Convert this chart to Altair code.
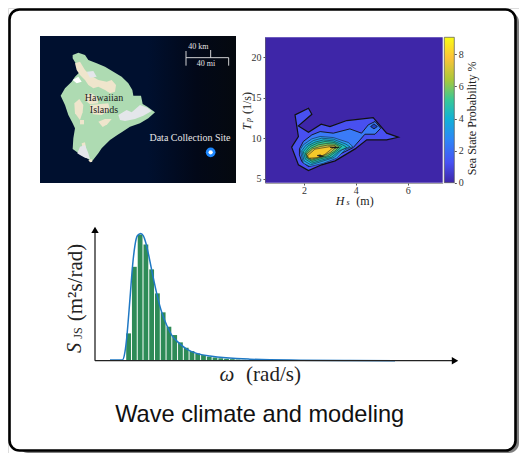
import altair as alt
import pandas as pd

SERIF = "Liberation Serif"
SANS = "Liberation Sans"

# ---------- map (read in picture units of the map panel) ----------
island = [(128,90),(145,83),(165,90),(175,105),(200,115),(225,125),(250,140),(275,155),(295,175),(307,195),(310,212),(333,212),(338,237),(352,245),(375,262),(355,280),(330,295),(300,305),(275,322),(262,330),(240,345),(215,370),(205,385),(185,410),(175,402),(150,388),(128,372),(130,340),(135,310),(128,295),(115,270),(105,240),(92,212),(105,190),(125,170),(135,155),(150,140),(140,120),(128,100)]
tan_regions = [
    [(135,115),(150,110),(165,135),(180,150),(205,165),(230,170),(245,165),(258,180),(255,200),(240,205),(225,195),(205,185),(190,190),(175,180),(165,165),(150,150),(140,135)],
    [(133,235),(148,222),(160,240),(158,262),(150,285),(135,265)],
    [(180,240),(235,235),(240,255),(215,270),(190,268),(180,255)],
    [(165,210),(185,205),(200,215),(205,235),(180,238),(168,228)],
    [(150,285),(162,285),(162,298),(150,298)],
    [(205,290),(225,282),(245,282),(232,298),(218,306)],
    [(155,355),(165,352),(168,368),(158,372)],
    [(175,405),(185,402),(187,410),(180,412)],
]
gray_regions = [
    [(170,140),(190,138),(200,155),(180,158)],
    [(265,270),(290,255),(305,262),(330,240),(352,248),(365,258),(340,272),(315,282),(285,288),(270,285)],
    [(142,385),(150,365),(165,360),(175,385),(180,402),(165,398),(150,390)],
]
white_regions = [[(128,165),(145,155),(155,170),(140,175)]]
scalebar = [(468,98,596,98),(468,78,468,122),(542,75,542,98),(596,98,596,122)]

# ---------- contour panel ----------
contours = [
    ("#4850f0", 1.2, [(1.65,12.88),(2.17,13.70),(2.30,12.96),(1.78,11.52),(2.17,10.74),(2.66,11.73),(3.00,11.44),(3.65,12.18),(4.67,12.55),(5.19,10.62),(5.64,10.12),(5.19,9.79),(4.42,9.79),(3.97,8.68),(3.20,7.20),(2.68,6.71),(2.17,6.01),(1.78,6.71),(1.52,8.89),(1.78,10.21)]),
    ("#3a7bf7", 0.9, [(1.82,8.68),(1.97,9.59),(2.30,10.41),(2.62,10.82),(3.13,10.62),(3.77,11.15),(4.22,10.62),(4.48,11.65),(4.74,12.06),(4.96,11.23),(4.74,10.49),(4.35,10.49),(4.16,9.79),(3.90,8.85),(3.20,7.74),(2.68,7.12),(2.17,6.50),(1.91,7.12),(1.82,7.94)]),
    ("#1f3fc0", 0.8, [(4.57,11.44),(4.70,11.77),(4.83,11.44),(4.70,11.15)]),
    ("#2d9cf0", 0.5, [(1.85,8.56),(1.97,9.18),(2.30,9.92),(2.62,10.21),(3.13,10.08),(3.71,9.47),(3.88,8.97),(3.58,8.56),(3.26,7.53),(2.75,6.91),(2.23,6.50),(1.97,6.91)]),
    ("#1eaedc", 0.5, [(1.91,8.44),(2.06,9.09),(2.36,9.71),(2.68,10.0),(3.13,9.88),(3.62,9.26),(3.77,8.93),(3.45,8.56),(3.16,7.61),(2.68,7.12),(2.26,6.71),(2.0,7.2)]),
    ("#22bfb8", 0.5, [(1.97,8.35),(2.17,9.09),(2.42,9.51),(2.75,9.79),(3.13,9.67),(3.54,9.09),(3.65,8.85),(3.36,8.44),(3.07,7.65),(2.62,7.24),(2.30,6.91),(2.05,7.41)]),
    ("#37c897", 0.5, [(2.04,8.23),(2.23,8.97),(2.51,9.38),(2.81,9.59),(3.16,9.47),(3.45,8.97),(3.32,8.56),(2.98,7.74),(2.59,7.41),(2.31,7.12),(2.10,7.53)]),
    ("#80c860", 0.5, [(2.08,8.15),(2.27,8.77),(2.55,9.18),(2.85,9.34),(3.20,9.26),(3.36,8.93),(3.20,8.44),(2.90,7.82),(2.55,7.53),(2.30,7.28),(2.13,7.61)]),
    ("#d0be45", 0.5, [(2.10,8.02),(2.33,8.68),(2.62,8.97),(2.90,9.14),(3.20,9.09),(3.23,8.85),(3.03,8.27),(2.77,7.86),(2.51,7.61),(2.30,7.41),(2.15,7.65)]),
    ("#f5c82a", 0.5, [(2.14,7.86),(2.42,8.64),(3.03,8.97),(3.13,8.85),(2.81,8.02),(2.55,7.61),(2.17,7.53)]),
    ("#222222", 0.5, [(3.0,8.85),(3.2,8.93),(3.36,8.85),(3.2,8.77)]),
    ("#222222", 0.5, [(2.5,7.86),(2.62,7.94),(2.75,7.74),(2.62,7.70)]),
]
hs_ticks = [2, 4, 6]
tp_ticks = [5, 10, 15, 20]
cb_ticks = [0, 2, 4, 6, 8]
parula = [(0,"#3e26a8"),(0.14,"#4752f4"),(0.3,"#2d87f7"),(0.44,"#12b1d6"),(0.57,"#37c897"),(0.71,"#abc739"),(0.86,"#fec338"),(1,"#f9fb15")]

# ---------- spectrum ----------
bar_left = [0.26,0.308,0.356,0.404,0.452,0.5,0.548,0.596,0.644,0.692,0.74,0.788,0.836,0.884,0.932,0.98,1.028,1.076,1.124,1.172,1.22,1.268,1.316,1.364,1.412,1.46,1.508,1.556,1.604,1.652]
bar_right = [0.3,0.348,0.396,0.444,0.492,0.54,0.588,0.636,0.684,0.732,0.78,0.828,0.876,0.924,0.972,1.02,1.068,1.116,1.164,1.212,1.26,1.308,1.356,1.404,1.452,1.5,1.548,1.596,1.644,1.692]
bar_s = [0.213,0.732,0.984,0.906,0.712,0.525,0.377,0.265,0.2,0.143,0.101,0.075,0.057,0.044,0.031,0.025,0.019,0.015,0.012,0.009,0.007,0.005,0.004,0.003,0.002,0.002,0.001,0.001,0.001,0.001]
curve_omega = [0.125,0.228,0.25,0.264,0.292,0.314,0.333,0.353,0.381,0.403,0.425,0.453,0.481,0.514,0.556,0.597,0.639,0.694,0.764,0.847,0.958,1.29,1.71,2.125,2.5]
curve_s = [0.005,0.005,0.07,0.175,0.49,0.75,0.90,0.974,0.992,0.974,0.914,0.797,0.667,0.525,0.377,0.278,0.2,0.143,0.091,0.057,0.036,0.012,0.004,0.001,0.0]

# ---------- scales ----------
def q(f, dom, rng, ax=None, ch=alt.X):
    return ch(f, type="quantitative", scale=alt.Scale(domain=dom, range=rng, nice=False, zero=False), axis=ax)

MX = lambda f="x": q(f, [30,618], [32,228])
MY = lambda f="y": q(f, [33,474], [28,175], ch=alt.Y)
HS = lambda f="x", ax=None: q(f, [0.49,7.355], [257,434.7], ax)
TP = lambda f="y", ax=None: q(f, [4.5,22.47], [174.7,29.3], ax, alt.Y)
CB = lambda f="y", ax=None: q(f, [0,9.06], [174.7,29.3], ax, alt.Y)
WX = lambda f="x": q(f, [0,3], [87,447])
WY = lambda f="y": q(f, [0,1.058], [352.7,217], ch=alt.Y)

def poly(points, fill, stroke=None, sw=0, X=MX, Y=MY):
    df = pd.DataFrame({"x":[p[0] for p in points], "y":[p[1] for p in points], "i":range(len(points))})
    return alt.Chart(df).mark_line(fill=fill, stroke=stroke or fill, strokeWidth=sw, interpolate="linear-closed").encode(x=X(), y=Y(), order="i:Q")

def box(x, x2, y, y2, **kw):
    return alt.Chart(pd.DataFrame({"a":[0]})).mark_rect(**kw).encode(x=alt.value(x), x2=alt.value(x2), y=alt.value(y), y2=alt.value(y2))

def label(t, x, y, size, font=SERIF, color="#222222", style="normal", angle=0, align="center"):
    return alt.Chart(pd.DataFrame({"a":[0]})).mark_text(text=t, font=font, fontSize=size, color=color, fontStyle=style, angle=angle, align=align, baseline="middle").encode(x=alt.value(x), y=alt.value(y))

layers = []
# frame
layers.append(box(10, 511, 4, 445, color="#808080", cornerRadius=10))
layers.append(box(1.5, 507.5, 1.5, 442.5, fill="white", stroke="black", strokeWidth=2.6, cornerRadius=10))

# map
layers.append(box(32, 228, 28, 175, color=alt.Gradient(gradient="linear", x1=0, x2=1, y1=0, y2=0, stops=[
    alt.GradientStop(offset=0, color="#00102f"), alt.GradientStop(offset=0.55, color="#00102f"),
    alt.GradientStop(offset=0.8, color="#020818"), alt.GradientStop(offset=1, color="#05090f")])))
layers.append(poly(island, "#aedbb2"))
for r in tan_regions: layers.append(poly(r, "#efe5cc"))
for r in gray_regions: layers.append(poly(r, "#e4e6ea"))
for r in white_regions: layers.append(poly(r, "#ffffff"))
layers.append(alt.Chart(pd.DataFrame({"x":[222,222],"y":[220,255],"t":["Hawaiian","Islands"]})).mark_text(font=SERIF, fontSize=10, color="#1a1a1a").encode(x=MX(), y=MY(), text="t:N"))
sb = pd.DataFrame(scalebar, columns=["x","y","x2","y2"])
layers.append(alt.Chart(sb).mark_rule(color="#e8e8e8", strokeWidth=0.9).encode(x=MX(), y=MY(), x2="x2:Q", y2="y2:Q"))
layers.append(alt.Chart(pd.DataFrame({"x":[505,528,480],"y":[65,118,340],"t":["40 km","40 mi","Data Collection Site"],"s":[8,8,10]})).mark_text(font=SERIF, color="#e6e6e6").encode(x=MX(), y=MY(), text="t:N", size=alt.Size("s:Q", scale=None, legend=None)))
site = pd.DataFrame({"x":[542],"y":[382]})
layers.append(alt.Chart(site).mark_point(filled=True, color="#1e88ff", size=95, opacity=1).encode(x=MX(), y=MY()))
layers.append(alt.Chart(site).mark_point(filled=True, color="#ffffff", size=18, opacity=1).encode(x=MX(), y=MY()))

# contour panel
layers.append(box(257, 434.7, 29.3, 174.7, color="#3e26a8"))
for fill, sw, pts in contours:
    layers.append(poly(pts, fill, stroke="#111111", sw=sw, X=HS, Y=TP))
ax_style = dict(zindex=1, labelFont=SERIF, labelFontSize=10, labelColor="#333333", tickColor="#555555", tickSize=2, domainColor="#666666", domainWidth=0.6, grid=False, title=None)
layers.append(alt.Chart(pd.DataFrame({"x":hs_ticks,"y":[5]*3})).mark_point(opacity=0).encode(
    x=HS(ax=alt.Axis(values=hs_ticks, orient="bottom", offset=-270, labelPadding=0, format="d", **ax_style)), y=TP()))
layers.append(alt.Chart(pd.DataFrame({"x":[2]*4,"y":tp_ticks})).mark_point(opacity=0).encode(
    x=HS(), y=TP(ax=alt.Axis(values=tp_ticks, orient="left", offset=-257, labelPadding=2, format="d", **ax_style))))
# colour bar
layers.append(alt.Chart(pd.DataFrame({"y":[0],"y2":[9.06]})).mark_rect(stroke="#555555", strokeWidth=0.7, color=alt.Gradient(gradient="linear", x1=0, x2=0, y1=1, y2=0,
    stops=[alt.GradientStop(offset=o, color=c) for o, c in parula])).encode(x=alt.value(436.3), x2=alt.value(446.3), y=CB(), y2="y2:Q"))
layers.append(alt.Chart(pd.DataFrame({"y":cb_ticks})).mark_point(opacity=0).encode(
    x=alt.value(446.3), y=CB(ax=alt.Axis(zindex=1, values=cb_ticks, orient="right", offset=-64.7, labelPadding=2, format="d", labelFont=SERIF, labelFontSize=10, labelColor="#333333", tickColor="#555555", tickSize=2, domain=False, grid=False, title=None))))
layers += [
    label("Sea State Probability %", 463.7, 110.3, 12, angle=270),
    label("H", 332, 192.5, 12, style="italic"),
    label("s", 340, 194.5, 8, style="italic"),
    label("(m)", 357, 192.5, 12),
    label("T", 238.7, 118.7, 12, style="italic", angle=270),
    label("p", 241, 112, 8, style="italic", angle=270),
    label("(1/s)", 238.7, 95, 12, angle=270),
]

# spectrum
layers.append(alt.Chart(pd.DataFrame({"x":bar_left,"x2":bar_right,"y":bar_s,"y0":[0]*len(bar_s)})).mark_rect(color="#2e8b57").encode(x=WX(), x2="x2:Q", y=WY(), y2="y0:Q"))
layers.append(alt.Chart(pd.DataFrame({"x":curve_omega,"y":curve_s})).mark_line(color="#1f78c4", strokeWidth=1.5, interpolate="monotone").encode(x=WX(), y=WY()))
layers.append(alt.Chart(pd.DataFrame({"x":[0,0],"y":[0,0],"x2":[3,0],"y2":[0,1.0]})).mark_rule(color="#222222", strokeWidth=1.3).encode(x=WX(), y=WY(), x2="x2:Q", y2="y2:Q"))
layers.append(alt.Chart(pd.DataFrame({"x":[0],"y":[1.02]})).mark_point(shape="triangle-up", filled=True, color="black", size=55, opacity=1).encode(x=WX(), y=WY()))
layers.append(alt.Chart(pd.DataFrame({"x":[3],"y":[0]})).mark_point(shape="triangle-right", filled=True, color="black", size=55, opacity=1).encode(x=WX(), y=WY()))
layers += [
    label("S", 67, 340, 20, style="italic", angle=270),
    label("JS", 70, 325, 12, angle=270),
    label("(m²s/rad)", 68, 274.5, 21, angle=270),
    label("ω", 219, 367, 21, style="italic"),
    label("(rad/s)", 265.5, 367, 21),
    label("Wave climate and modeling", 251.7, 407, 23.6, font=SANS, color="#111111"),
]

chart = alt.layer(*layers).resolve_scale(x="independent", y="independent").properties(
    width=511, height=445, padding=0, autosize=alt.AutoSizeParams(type="none")
).configure_view(stroke=None).configure(background="white")
chart.save("out.html", embed_options={"renderer": "svg", "actions": False})
